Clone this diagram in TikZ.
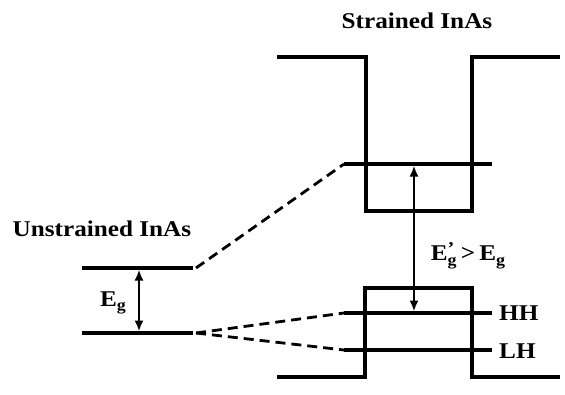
\documentclass[tikz,border=0pt]{standalone}
\usepackage{fontspec}
\setmainfont{Liberation Serif}
\usetikzlibrary{arrows.meta}
\newcommand\lblsub[1]{\raisebox{-0.45ex}{\fontsize{16}{16}\selectfont #1}}
\newcommand\lbltxt[1]{\scalebox{1.12}[1]{#1}}
\tikzset{
  band/.style={line width=3.6pt, line join=miter},
  level/.style={line width=3.2pt},
  conn/.style={line width=2.8pt, dash pattern=on 10pt off 6pt},
  gap/.style={line width=2.6pt, {Latex[length=11pt,width=9pt]}-{Latex[length=11pt,width=9pt]}, shorten <=1.5pt, shorten >=1.5pt},
  lbl/.style={font=\bfseries\fontsize{22.5}{24}\selectfont, inner sep=0pt}
}
\begin{document}
\begin{tikzpicture}[x=1pt,y=-1pt]
\useasboundingbox (0,0) rectangle (565,394);
% titles
\node[lbl] (tstrained) at (417,21) {\lbltxt{Strained InAs}};
\node[lbl] (tunstrained) at (102,229) {\lbltxt{Unstrained InAs}};
% unstrained levels
\coordinate (ucL) at (82,268); \coordinate (ucR) at (193,268);
\coordinate (uvL) at (82,333); \coordinate (uvR) at (193,333);
\draw[level] (ucL) -- (ucR);
\draw[level] (uvL) -- (uvR);
\coordinate (ua) at (139,268); \coordinate (ub) at (139,333);
\draw[gap] (ua) -- (ub);
\node[lbl] (eg) at (113,303) {\lbltxt{E\lblsub{g}}};
% strained conduction band well
\draw[band] (277,57) -- (366,57) -- (366,211) -- (472,211) -- (472,57) -- (560,57);
% strained valence band
\draw[band] (277,377) -- (365,377) -- (365,288) -- (472,288) -- (472,377) -- (560,377);
% strained levels
\coordinate (scL) at (344,164); \coordinate (scR) at (492,164);
\coordinate (hhL) at (344,313); \coordinate (hhR) at (492,313);
\coordinate (lhL) at (344,350); \coordinate (lhR) at (492,350);
\draw[level] (scL) -- (scR);
\draw[level] (hhL) -- (hhR);
\draw[level] (lhL) -- (lhR);
\coordinate (sa) at (414,164); \coordinate (sb) at (414,313);
\draw[gap] (sa) -- (sb);
\node[lbl] (egp) at (468,256) {\lbltxt{E\rlap{\raisebox{0.6ex}{\fontsize{18}{18}\selectfont\symbol{"27}}}\lblsub{g}\,>\,E\lblsub{g}}};
\node[lbl, anchor=west] (hh) at (499,313) {\lbltxt{HH}};
\node[lbl, anchor=west] (lh) at (499,351) {\lbltxt{LH}};
% dashed connectors
\draw[conn] ([xshift=3pt]ucR) -- (scL);
\draw[conn] ([xshift=3pt]uvR) -- (hhL);
\draw[conn] ([xshift=3pt]uvR) -- (lhL);
\end{tikzpicture}
\end{document}
